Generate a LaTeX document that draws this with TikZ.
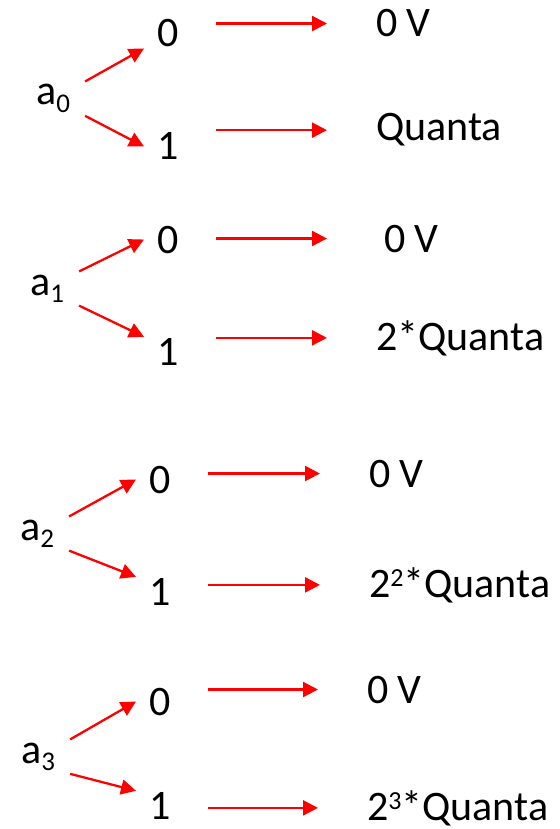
\documentclass[tikz,border=0pt]{standalone}
\usepackage{fontspec}
\setmainfont{Carlito}
\usetikzlibrary{arrows.meta}
\newcommand\lowidx[1]{\raisebox{-7.5pt}{\fontsize{27pt}{27pt}\selectfont #1}}
\newcommand\highidx[1]{\raisebox{10.5pt}{\fontsize{26pt}{26pt}\selectfont #1}}

\begin{document}
\begin{tikzpicture}[x=1pt,y=-1pt,line width=2.3pt,>={Triangle[length=15pt,width=15pt]},
  lbl/.style={anchor=base west,inner sep=0pt,font=\fontsize{42pt}{50pt}\selectfont},
  bit/.style={lbl,inner xsep=14pt,inner ysep=2pt},
  digit/.style={lbl,inner xsep=12pt},
  flow/.style={->,red}]
\useasboundingbox (0,0) rectangle (559,829);
% ---------- one block per bit a_k: its two values and what they give ----------
\foreach \k/\xa/\ya/\xd/\yz/\yo/\xv/\yv/\xq/\yq/\tipz/\tipo/\val in {
  0/21/105/144/47/160/375/37/375/141/south west/west/{Quanta},
  1/15/295/144/253/365/383/252/375/350/west/north west/{2*Quanta},
  2/5/540/136/493/605/368/487/368/597/west/north west/{2\highidx{2}*Quanta},
  3/6/763/136/715/819/366/703/366/820/west/north west/{2\highidx{3}*Quanta}}{
  \node[bit] (a\k) at (\xa,\ya) {a\lowidx{\k}};
  \node[digit] (z\k) at (\xd,\yz) {0};
  \node[digit] (o\k) at (\xd,\yo) {1};
  \node[lbl] (v\k) at (\xv,\yv) {0 V};
  \node[lbl] (q\k) at (\xq,\yq) {\val};
  % branches
  \draw[flow] (a\k.north east) -- (z\k.\tipz);
  \draw[flow] (a\k.south east) -- (o\k.\tipo);
  % outputs
  \draw[flow,shorten <=24pt,shorten >=48pt] (z\k.east |- v\k.west) -- (q\k.west |- v\k.west);
  \draw[flow,shorten <=24pt,shorten >=48pt] (o\k.east |- q\k.west) -- (q\k.west);
}
\end{tikzpicture}
\end{document}
